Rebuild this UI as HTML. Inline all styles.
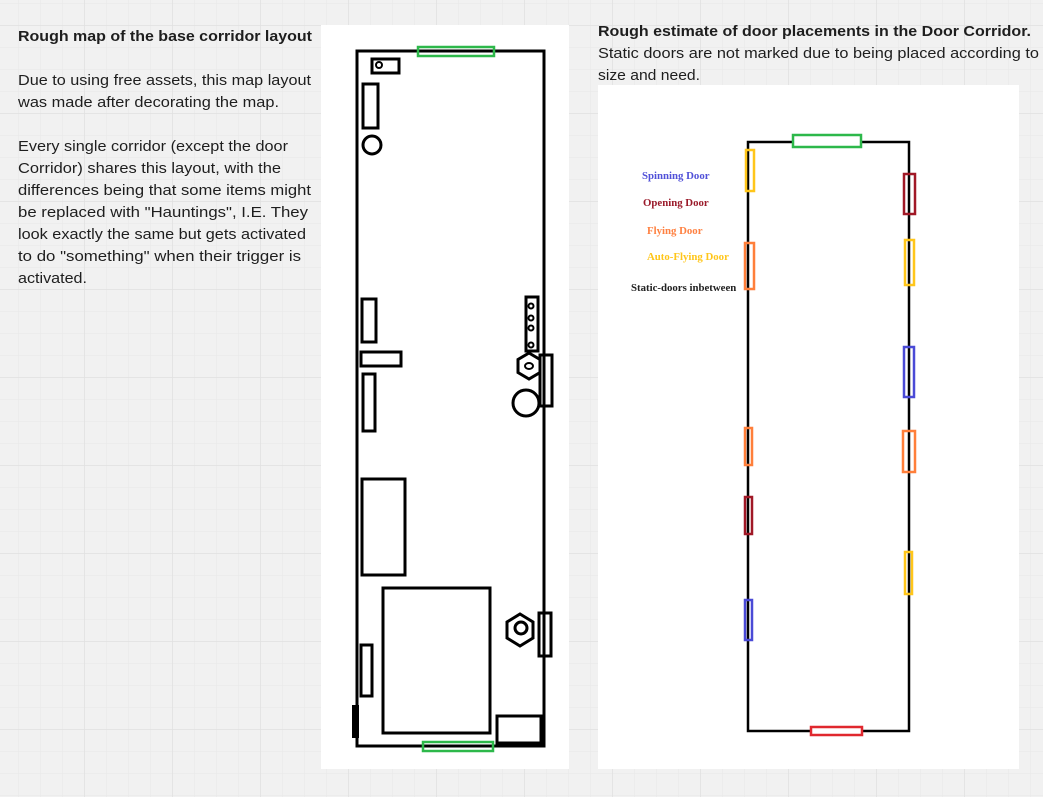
<!DOCTYPE html>
<html><head><meta charset="utf-8"><style>
html,body{margin:0;padding:0;width:1043px;height:797px;overflow:hidden;background:#f1f1f1}
svg{display:block}
</style></head><body>
<svg width="1043" height="797" viewBox="0 0 1043 797" xmlns="http://www.w3.org/2000/svg">
<defs>
<pattern id="minor" width="22" height="22" patternUnits="userSpaceOnUse" x="-4" y="25">
<path d="M0 0H22M0 0V22" stroke="#e8e8e8" stroke-width="1" fill="none"/>
</pattern>
<pattern id="major" width="88" height="88" patternUnits="userSpaceOnUse" x="-4" y="25">
<path d="M0 0H88M0 0V88" stroke="#e0e0e0" stroke-width="1.5" fill="none"/>
</pattern>
</defs>
<rect width="1043" height="797" fill="#f1f1f1"/>
<rect width="1043" height="797" fill="url(#minor)"/>
<rect width="1043" height="797" fill="url(#major)"/>

<g font-family="Liberation Sans, sans-serif" font-size="14.5" fill="#1e1e1e">
<text x="18" y="41" font-weight="bold" textLength="294" lengthAdjust="spacingAndGlyphs">Rough map of the base corridor layout</text>
<text x="18" y="85" textLength="293" lengthAdjust="spacingAndGlyphs">Due to using free assets, this map layout</text>
<text x="18" y="107" textLength="261" lengthAdjust="spacingAndGlyphs">was made after decorating the map.</text>
<text x="18" y="151" textLength="270" lengthAdjust="spacingAndGlyphs">Every single corridor (except the door</text>
<text x="18" y="173" textLength="263" lengthAdjust="spacingAndGlyphs">Corridor) shares this layout, with the</text>
<text x="18" y="195" textLength="293" lengthAdjust="spacingAndGlyphs">differences being that some items might</text>
<text x="18" y="217" textLength="290" lengthAdjust="spacingAndGlyphs">be replaced with "Hauntings", I.E. They</text>
<text x="18" y="239" textLength="288" lengthAdjust="spacingAndGlyphs">look exactly the same but gets activated</text>
<text x="18" y="261" textLength="283" lengthAdjust="spacingAndGlyphs">to do "something" when their trigger is</text>
<text x="18" y="283" textLength="69" lengthAdjust="spacingAndGlyphs">activated.</text>
<text x="598" y="36" font-weight="bold" textLength="433" lengthAdjust="spacingAndGlyphs">Rough estimate of door placements in the Door Corridor.</text>
<text x="598" y="58" textLength="441" lengthAdjust="spacingAndGlyphs">Static doors are not marked due to being placed according to</text>
<text x="598" y="80" textLength="102" lengthAdjust="spacingAndGlyphs">size and need.</text>
</g>

<!-- left panel -->
<rect x="321" y="25" width="248" height="744" fill="#fff"/>
<g fill="none" stroke="#000" stroke-width="3">
<rect x="357" y="51" width="187" height="695"/>
<rect x="372" y="59" width="27" height="14"/>
<circle cx="379" cy="65" r="3" stroke-width="2"/>
<rect x="363" y="84" width="15" height="44"/>
<circle cx="372" cy="145" r="9"/>
<rect x="362" y="299" width="14" height="43"/>
<rect x="361" y="352" width="40" height="14"/>
<rect x="363" y="374" width="12" height="57"/>
<rect x="526" y="297" width="12" height="54"/>
<rect x="540" y="355" width="12" height="51"/>
<polygon points="529,353 540,359.5 540,372.5 529,379 518,372.5 518,359.5"/>
<circle cx="526" cy="403" r="13"/>
<rect x="362" y="479" width="43" height="96"/>
<rect x="383" y="588" width="107" height="145"/>
<polygon points="520,614 533,622 533,638 520,646 507,638 507,622"/>
<circle cx="521" cy="628" r="6"/>
<rect x="539" y="613" width="12" height="43"/>
<rect x="361" y="645" width="11" height="51"/>
<rect x="497" y="716" width="44" height="27"/>
</g>
<g fill="none" stroke="#000" stroke-width="2">
<circle cx="531" cy="306" r="2.5"/><circle cx="531" cy="318" r="2.5"/><circle cx="531" cy="328" r="2.5"/><circle cx="531" cy="345" r="2.5"/>
<ellipse cx="529" cy="366" rx="4" ry="3"/>
</g>
<rect x="352" y="705" width="7" height="33" fill="#000"/>
<rect x="418" y="47" width="76" height="9" fill="none" stroke="#2db84a" stroke-width="2.5"/>
<rect x="423" y="742" width="70" height="9" fill="none" stroke="#2db84a" stroke-width="2.5"/>

<!-- right panel -->
<rect x="598" y="85" width="421" height="684" fill="#fff"/>
<rect x="748" y="142" width="161" height="589" fill="none" stroke="#000" stroke-width="2.5"/>
<g fill="none" stroke-width="2.5">
<rect x="793" y="135" width="68" height="12" stroke="#2db84a" fill="#fff"/>
<rect x="746" y="150" width="8" height="41" stroke="#ffc61a"/>
<rect x="745" y="243" width="9" height="46" stroke="#ff7f3a"/>
<rect x="745" y="428" width="7" height="37" stroke="#ff7f3a"/>
<rect x="745" y="497" width="7" height="37" stroke="#a01826"/>
<rect x="745" y="600" width="7" height="40" stroke="#4a4ad6"/>
<rect x="904" y="174" width="11" height="40" stroke="#a01826"/>
<rect x="905" y="240" width="9" height="45" stroke="#ffc61a"/>
<rect x="904" y="347" width="10" height="50" stroke="#4a4ad6"/>
<rect x="903" y="431" width="12" height="41" stroke="#ff7f3a"/>
<rect x="905" y="552" width="7" height="42" stroke="#ffc61a"/>
<rect x="811" y="727" width="51" height="8" stroke="#e0282e" fill="#fff"/>
</g>
<g font-family="Liberation Serif, serif" font-size="10.8" font-weight="bold">
<text x="642" y="179" fill="#5050d8">Spinning Door</text>
<text x="643" y="206" fill="#9a1a2a">Opening Door</text>
<text x="647" y="234" fill="#ff8040">Flying Door</text>
<text x="647" y="260" fill="#ffc61a">Auto-Flying Door</text>
<text x="631" y="291" fill="#222">Static-doors inbetween</text>
</g>
</svg>
</body></html>
